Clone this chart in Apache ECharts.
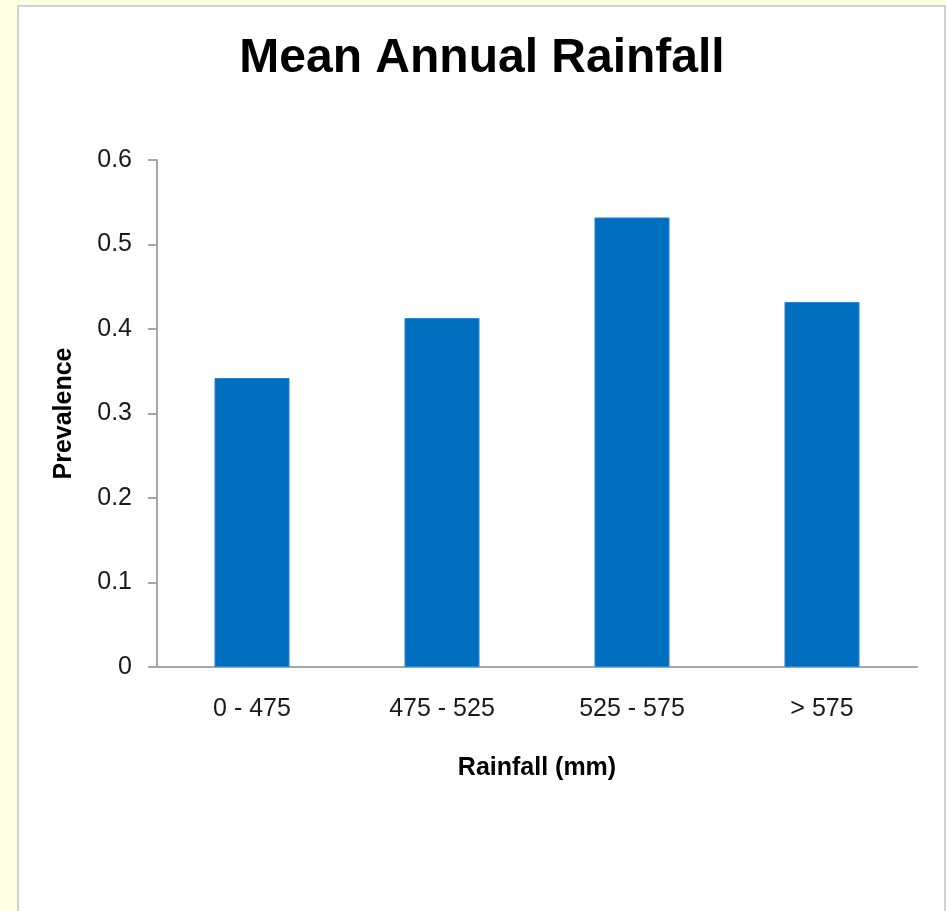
<!DOCTYPE html>
<html>
<head>
<meta charset="utf-8">
<style>
  html, body { margin: 0; padding: 0; background: #FEFEE0; }
  #chart { width: 946px; height: 911px; }
</style>
<script src="https://cdn.jsdelivr.net/npm/echarts@6/dist/echarts.min.js"></script>
</head>
<body>
<div id="chart"></div>
<script>
// Rainfall bands and the prevalence observed in each
const categories = ['0 - 475', '475 - 525', '525 - 575', '> 575'];
const prevalence = [0.342, 0.413, 0.532, 0.432];

const FONT = '"Liberation Sans", Arial, sans-serif';
const AXIS_GREY = '#A6A6A6';

const chart = echarts.init(document.getElementById('chart'), null, { renderer: 'canvas' });

chart.setOption({
  backgroundColor: '#FEFEE0',
  animation: false,
  graphic: [{
    type: 'rect',
    z: -10,
    silent: true,
    shape: { x: 18, y: 6, width: 927, height: 920 },
    style: { fill: '#FFFFFF', stroke: '#C4C4C4', lineWidth: 1.5 }
  }],
  title: {
    text: 'Mean Annual Rainfall',
    left: 482,
    textAlign: 'center',
    top: 35,
    padding: 0,
    textStyle: { fontFamily: FONT, fontSize: 48, fontWeight: 'bold', color: '#000' }
  },
  grid: { left: 157, right: 29, top: 160, bottom: 244, containLabel: false },
  xAxis: {
    type: 'category',
    data: categories,
    name: 'Rainfall (mm)',
    nameLocation: 'middle',
    nameGap: 89,
    nameTextStyle: { fontFamily: FONT, fontSize: 25, fontWeight: 'bold', color: '#000' },
    axisLine: { show: true, lineStyle: { color: AXIS_GREY, width: 2 } },
    axisTick: { show: false },
    axisLabel: { fontFamily: FONT, fontSize: 25, color: '#1A1A1A', margin: 30 },
    splitLine: { show: false }
  },
  yAxis: {
    type: 'value',
    min: 0,
    max: 0.6,
    interval: 0.1,
    name: 'Prevalence',
    nameLocation: 'middle',
    nameGap: 80,
    nameTextStyle: { fontFamily: FONT, fontSize: 25, fontWeight: 'bold', color: '#000' },
    axisLine: { show: true, lineStyle: { color: AXIS_GREY, width: 2 } },
    axisTick: { show: true, length: 9, lineStyle: { color: AXIS_GREY, width: 2 } },
    axisLabel: { fontFamily: FONT, fontSize: 25, color: '#1A1A1A', margin: 25 },
    splitLine: { show: false }
  },
  series: [{
    type: 'bar',
    data: prevalence,
    barWidth: '39.5%',
    itemStyle: { color: '#006FC0', borderColor: '#2E86CF', borderWidth: 1 }
  }]
});
</script>
</body>
</html>
